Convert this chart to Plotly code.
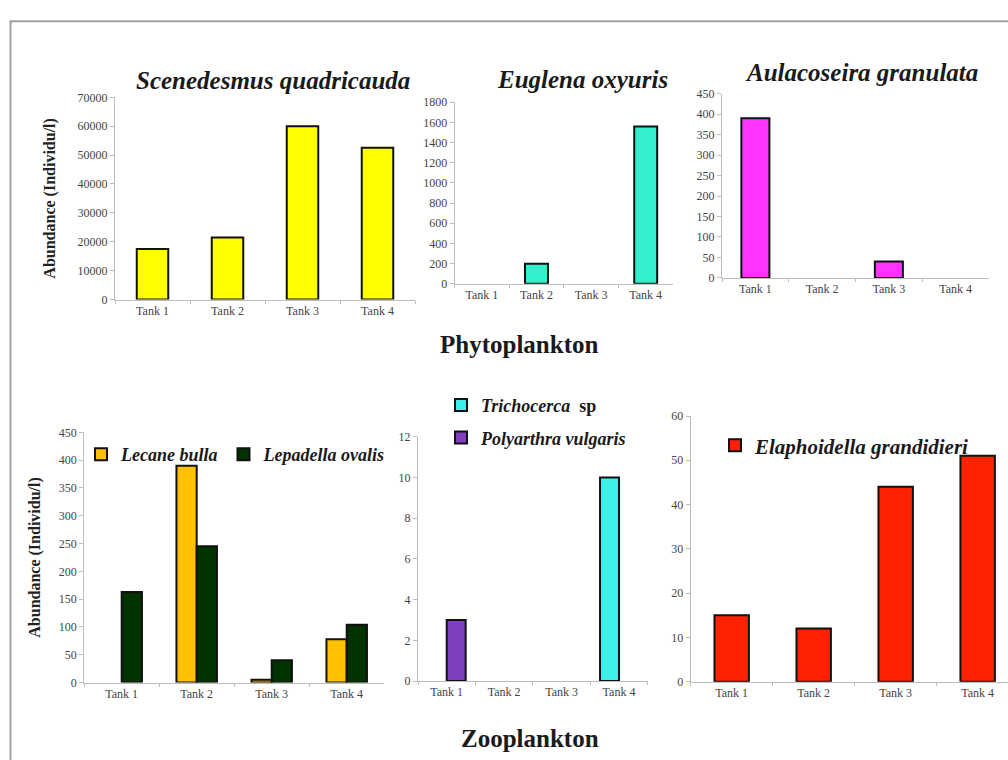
import plotly.graph_objects as go

W, H = 1008, 760

# ---- data -------------------------------------------------------------
tanks = ["Tank 1", "Tank 2", "Tank 3", "Tank 4"]

# Phytoplankton abundance (individu/l)
scenedesmus = [17500, 21500, 60000, 52500]
euglena = [0, 200, 0, 1560]
aulacoseira = [390, 0, 40, 0]

# Zooplankton abundance (individu/l)
lecane = [0, 390, 5, 78]
lepadella = [163, 245, 40, 104]
trichocerca = [0, 0, 0, 10]
polyarthra = [3, 0, 0, 0]
elaphoidella = [15, 12, 44, 51]

# ---- styling ----------------------------------------------------------
SERIF = "Liberation Serif"
OUTLINE = dict(color="#111111", width=2)
TICKFONT = dict(family=SERIF, size=12, color="#444444")


def nz(values):
    """Empty tanks get no bar at all (not even an outline on the baseline)."""
    return [v if v else None for v in values]


def dom_x(left, right):
    return [left / W, min(right / W, 1.0)]


def dom_y(top, bottom):
    return [1 - bottom / H, 1 - top / H]


fig = go.Figure()

# panel: (x pixel span, y pixel span (top, bottom), y max, dtick)
panels = {
    "1": ((115, 415), (92, 298), 70000, 10000),
    "2": ((454.6, 673), (97, 282), 1800, 200),
    "3": ((722, 989), (88.3, 276), 450, 50),
    "4": ((84.2, 384.2), (433.3, 688.3), 450, 50),
    "5": ((418, 647.7), (437.8, 686.7), 12, 2),
    "6": ((690.7, 1008), (416.7, 687.3), 60, 10),
}

layout_axes = {}
for k, (xs, ys, ymax, dt) in panels.items():
    xname = "xaxis" if k == "1" else f"xaxis{k}"
    yname = "yaxis" if k == "1" else f"yaxis{k}"
    xa = dict(
        domain=dom_x(*xs), anchor="y" if k == "1" else f"y{k}",
        type="category", categoryorder="array", categoryarray=tanks,
        showline=True, linecolor="#bdbdbd", linewidth=1,
        ticks="outside", ticklen=3, tickcolor="#bdbdbd", tickson="boundaries",
        tickfont=TICKFONT, showgrid=False, zeroline=False, fixedrange=True,
    )
    # right-hand panel runs off the edge of the page
    xa["range"] = [-0.5, 3.37] if k == "6" else [-0.5, 3.5]
    ya = dict(
        domain=dom_y(*ys), anchor="x" if k == "1" else f"x{k}",
        range=[0, ymax], dtick=dt, tick0=0, tickformat="d",
        showline=True, linecolor="#bdbdbd", linewidth=1,
        ticks="outside", ticklen=4, tickcolor="#bdbdbd",
        tickfont=TICKFONT, showgrid=False, zeroline=False, fixedrange=True,
    )
    layout_axes[xname] = xa
    layout_axes[yname] = ya

ytitle = dict(text="Abundance (Individu/l)",
              font=dict(family=SERIF, size=16, weight="bold", color="#222222"))
layout_axes["yaxis"]["title"] = dict(ytitle, standoff=17)
layout_axes["yaxis4"]["title"] = dict(ytitle, standoff=14)

BW = 0.42

# ---- phytoplankton ----------------------------------------------------
fig.add_trace(go.Bar(x=tanks, y=nz(scenedesmus), width=BW, marker=dict(color="#FFFF00", line=OUTLINE),
                     xaxis="x", yaxis="y", showlegend=False, name="Scenedesmus quadricauda"))
fig.add_trace(go.Bar(x=tanks, y=nz(euglena), width=BW, marker=dict(color="#33F0CC", line=OUTLINE),
                     xaxis="x2", yaxis="y2", showlegend=False, name="Euglena oxyuris"))
fig.add_trace(go.Bar(x=tanks, y=nz(aulacoseira), width=BW, marker=dict(color="#FF33FF", line=OUTLINE),
                     xaxis="x3", yaxis="y3", showlegend=False, name="Aulacoseira granulata"))

# ---- zooplankton ------------------------------------------------------
GW = 0.27
fig.add_trace(go.Bar(x=tanks, y=nz(lecane), width=GW, offset=-GW, marker=dict(color="#FFC000", line=OUTLINE),
                     xaxis="x4", yaxis="y4", name="<i>Lecane bulla</i>", legend="legend"))
fig.add_trace(go.Bar(x=tanks, y=nz(lepadella), width=GW, offset=0, marker=dict(color="#003300", line=OUTLINE),
                     xaxis="x4", yaxis="y4", name="<i>Lepadella ovalis</i>", legend="legend"))

SW = 0.33
fig.add_trace(go.Bar(x=tanks, y=nz(trichocerca), width=SW, offset=-SW, marker=dict(color="#3CF2E8", line=OUTLINE),
                     xaxis="x5", yaxis="y5", name="<i>Trichocerca</i>  sp", legend="legend2",
                     legendgroup="t"))
fig.add_trace(go.Bar(x=tanks, y=nz(polyarthra), width=SW, offset=0, marker=dict(color="#7F3FBF", line=OUTLINE),
                     xaxis="x5", yaxis="y5", name="<i>Polyarthra vulgaris</i>", legend="legend2",
                     legendgroup="p"))

fig.add_trace(go.Bar(x=tanks, y=nz(elaphoidella), width=BW, marker=dict(color="#FF2200", line=OUTLINE),
                     xaxis="x6", yaxis="y6", name="<i>Elaphoidella grandidieri</i>", legend="legend3"))


def legfont(size):
    return dict(family=SERIF, size=size, weight="bold", color="#1a1a1a")


legend_common = dict(bgcolor="rgba(0,0,0,0)", xanchor="left", yanchor="top",
                     itemclick=False, itemdoubleclick=False)

# ---- text -------------------------------------------------------------
TITLEFONT = dict(family=SERIF, size=25, weight="bold", style="italic", color="#1a1a1a")
HEADFONT = dict(family=SERIF, size=25, weight="bold", color="#1a1a1a")


def label(text, x, y, font):
    return dict(text=text, x=x / W, y=1 - y / H, xref="paper", yref="paper",
                showarrow=False, xanchor="center", yanchor="middle", font=font)


annotations = [
    label("Scenedesmus quadricauda", 273, 75, TITLEFONT),
    label("Euglena oxyuris", 582, 74, TITLEFONT),
    label("Aulacoseira granulata", 861, 67, TITLEFONT),
    label("Phytoplankton", 519, 344, HEADFONT),
    label("Zooplankton", 530, 745, HEADFONT),
]

# page frame
shapes = [dict(type="rect", xref="paper", yref="paper",
               x0=10.5 / W, x1=1.2, y0=-0.2, y1=1 - 14.5 / H,
               line=dict(color="#a0a0a0", width=2), layer="below")]

fig.update_layout(
    width=W, height=H,
    margin=dict(l=0, r=0, t=0, b=0),
    paper_bgcolor="white", plot_bgcolor="white",
    barmode="group",
    annotations=annotations,
    shapes=shapes,
    legend=dict(legend_common, font=legfont(18), orientation="h", x=81 / W, y=1 - 437 / H),
    legend2=dict(legend_common, font=legfont(18), orientation="v", x=441 / W, y=1 - 387 / H,
                 tracegroupgap=6),
    legend3=dict(legend_common, font=legfont(21), orientation="v", x=715 / W, y=1 - 426 / H),
    **layout_axes,
)

fig.write_html("out.html")
